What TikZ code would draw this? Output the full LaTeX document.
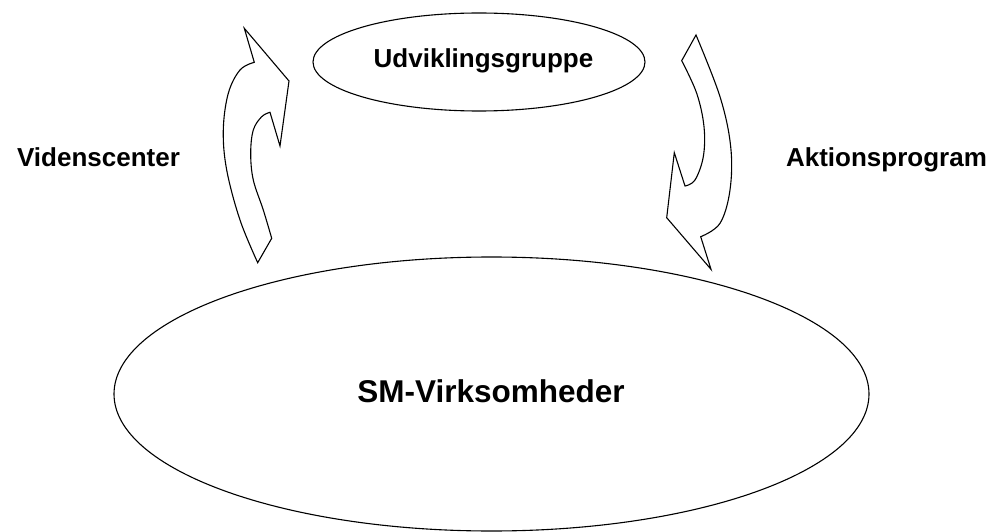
\documentclass[tikz,border=0pt]{standalone}
\usepackage{fontspec}
\setmainfont{Liberation Sans}
\usetikzlibrary{shapes.geometric}
\begin{document}
\begin{tikzpicture}[x=1pt,y=-1pt,
  outline/.style={draw=black,line width=1.1pt,line join=miter},
  oval/.style={outline,ellipse,inner sep=0pt,fill=white},
  labeltext/.style={font=\bfseries\fontsize{26}{30}\selectfont,inner sep=0pt,anchor=base},
  bentarrow/.style={outline,fill=white}]
\useasboundingbox (0,0) rectangle (994,532);

% the two groups
\node[oval,minimum width=332pt,minimum height=98pt] (grp) at (479,62) {};
\node[labeltext] (grptxt) at (483.5,68) {Udviklingsgruppe};

\node[oval,minimum width=755pt,minimum height=274pt] (sm) at (491.5,394) {};
\node[labeltext,font=\bfseries\fontsize{31.5}{36}\selectfont] (smtxt) at (491,402) {SM-Virksomheder};

% side labels
\node[labeltext] (viden) at (98.5,167) {Videnscenter};
\node[labeltext] (aktion) at (886.5,167) {Aktionsprogram};

% upward bent arrow on the left
\draw[bentarrow] (244.3,28.3) -- (289,81) -- (280,146) -- (270,112.3)
  -- plot[smooth,tension=0.6] coordinates {(270,112.3) (261.7,116.7) (253.3,130) (250.7,153.3) (253.3,180) (263.3,210) (271.7,238.3)}
  -- (257.7,262.7)
  -- plot[smooth,tension=0.6] coordinates {(257.7,262.7) (240,220) (226.7,170) (223.3,130) (228.3,93.3) (240,70) (254.3,62.3)}
  -- cycle;

% downward bent arrow on the right
\draw[bentarrow] (696,35) -- (681.7,60.7)
  -- plot[smooth,tension=0.6] coordinates {(681.7,60.7) (696.7,93.3) (704,126.7) (703.3,156.7) (695,180) (685,186)}
  -- (674.3,152.7) -- (666.7,217.7) -- (711,269.3) -- (700.7,236.7)
  -- plot[smooth,tension=0.6] coordinates {(700.7,236.7) (720,223.3) (730,190) (730.7,146.7) (720,96.7) (696,35)}
  -- cycle;
\end{tikzpicture}
\end{document}
